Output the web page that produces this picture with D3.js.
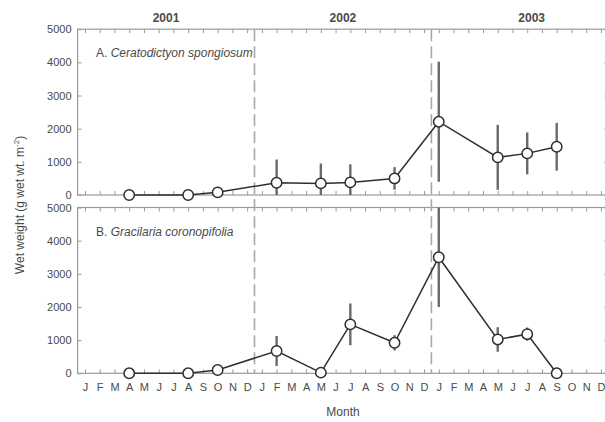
<!DOCTYPE html>
<html>
<head>
<meta charset="utf-8">
<script src="https://cdn.jsdelivr.net/npm/d3@7"></script>
<style>
  body { margin: 0; background: #fff; }
  svg { display: block; font-family: "Liberation Sans", Arial, sans-serif; }
</style>
</head>
<body>
<svg id="plot" width="605" height="422"></svg>
<script>
// month index 0 = Jan 2001 ... 35 = Dec 2003
const monthLabels = ["J","F","M","A","M","J","J","A","S","O","N","D"];
const years = ["2001", "2002", "2003"];
const yearLabelAt = [5.5, 17.5, 30.3];
const yearBreaks = [11.5, 23.5];
const yTicks = [0, 1000, 2000, 3000, 4000, 5000];

// sampling months
const sampleMonths = [3, 7, 9, 13, 16, 18, 21, 24, 28, 30, 32];

// A. Ceratodictyon spongiosum (mean, error)
const ceratoMean = [0, 0, 80, 370, 350, 380, 500, 2210, 1135, 1255, 1455];
const ceratoErr  = [0, 0, 0, 700, 600, 545, 340, 1810, 980, 630, 720];

// B. Gracilaria coronopifolia
const gracMean = [0, 0, 100, 672, 20, 1475, 920, 3500, 1020, 1180, 0];
const gracErr  = [0, 0, 0, 450, 0, 630, 230, 1500, 370, 200, 0];

const svg = d3.select("#plot");
const frameCol = "#9a9a9a";
const textCol = "#4a4a4a";

const x = d3.scaleLinear().domain([-0.5, 35.5]).range([77.6, 608.3]);

const panels = [
  {letter: "A. ", name: "Ceratodictyon spongiosum", mean: ceratoMean, err: ceratoErr,
   y: d3.scaleLinear().domain([0, 5000]).range([195, 29.2])},
  {letter: "B. ", name: "Gracilaria coronopifolia", mean: gracMean, err: gracErr,
   y: d3.scaleLinear().domain([0, 5000]).range([373.3, 207.5])}
];

const months = d3.range(36);

panels.forEach(function(p, pi) {
  const y = p.y;
  const top = y(5000), bot = y(0);
  const g = svg.append("g");

  // frame
  g.append("rect")
    .attr("x", x(-0.5)).attr("y", top)
    .attr("width", x(35.5) - x(-0.5)).attr("height", bot - top)
    .style("fill", "none").style("stroke", frameCol).style("stroke-width", 1.2);

  // month ticks top and bottom (inward)
  g.append("g").attr("transform", "translate(0," + top + ")")
    .call(d3.axisTop(x).tickValues(months).tickSize(-4).tickFormat(""))
    .call(a => a.select(".domain").remove())
    .call(a => a.selectAll("line").style("stroke", frameCol));
  const bx = d3.axisBottom(x).tickValues(months).tickSize(-4).tickPadding(10)
    .tickFormat(d => pi == 1 ? monthLabels[d % 12] : "");
  g.append("g").attr("transform", "translate(0," + bot + ")")
    .call(bx)
    .call(a => a.select(".domain").remove())
    .call(a => a.selectAll("line").style("stroke", frameCol))
    .call(a => a.selectAll("text").style("font-size", "11px").style("fill", textCol)
      .style("font-family", "Liberation Sans, Arial, sans-serif"));

  // y axis left with labels, right with ticks only
  g.append("g").attr("transform", "translate(" + x(-0.5) + ",0)")
    .call(d3.axisLeft(y).tickValues(yTicks).tickSize(-4).tickPadding(6).tickFormat(d3.format("d")))
    .call(a => a.select(".domain").remove())
    .call(a => a.selectAll("line").style("stroke", frameCol))
    .call(a => a.selectAll("text").style("font-size", "11px").style("fill", textCol)
      .style("font-family", "Liberation Sans, Arial, sans-serif"));
  g.append("g").attr("transform", "translate(" + x(35.5) + ",0)")
    .call(d3.axisRight(y).tickValues(yTicks).tickSize(-4).tickFormat(""))
    .call(a => a.select(".domain").remove())
    .call(a => a.selectAll("line").style("stroke", frameCol));

  // panel title
  const t = g.append("text")
    .attr("x", 96).attr("y", top + 28)
    .style("font-size", "12px").style("fill", textCol);
  t.append("tspan").text(p.letter);
  t.append("tspan").style("font-style", "italic").text(p.name);
});

// year break dashed lines
svg.selectAll(".brk").data(yearBreaks).enter().append("line")
  .attr("class", "brk")
  .attr("x1", d => x(d)).attr("x2", d => x(d))
  .attr("y1", panels[0].y(5000)).attr("y2", panels[1].y(0))
  .style("stroke", "#a8a8a8").style("stroke-width", 1.6)
  .style("stroke-dasharray", "12,5");

// data: error bars, lines, points
panels.forEach(function(p) {
  const y = p.y;
  const data = sampleMonths.map((m, i) => ({m: m, v: p.mean[i], e: p.err[i]}));
  const g = svg.append("g");

  g.selectAll(".err").data(data.filter(d => d.e > 0)).enter().append("line")
    .attr("x1", d => x(d.m)).attr("x2", d => x(d.m))
    .attr("y1", d => y(Math.max(0, d.v - d.e)))
    .attr("y2", d => y(Math.min(5000, d.v + d.e)))
    .style("stroke", "#6a6a6a").style("stroke-width", 2.4);

  g.append("path").datum(data)
    .attr("d", d3.line().x(d => x(d.m)).y(d => y(d.v)))
    .style("fill", "none").style("stroke", "#2e2e2e").style("stroke-width", 1.5);

  g.selectAll(".pt").data(data).enter().append("circle")
    .attr("cx", d => x(d.m)).attr("cy", d => y(d.v)).attr("r", 5.2)
    .style("fill", "#fff").style("stroke", "#2e2e2e").style("stroke-width", 1.5);
});

// year labels
svg.selectAll(".yr").data(years).enter().append("text")
  .attr("x", (d, i) => x(yearLabelAt[i])).attr("y", 22)
  .attr("text-anchor", "middle")
  .style("font-size", "12px").style("font-weight", "bold").style("fill", textCol)
  .text(d => d);

// axis titles
svg.append("text")
  .attr("x", 343).attr("y", 416)
  .attr("text-anchor", "middle")
  .style("font-size", "12px").style("fill", textCol)
  .text("Month");

const yl = svg.append("text")
  .attr("transform", "translate(24,205) rotate(-90)")
  .attr("text-anchor", "middle")
  .style("font-size", "12px").style("fill", textCol);
yl.append("tspan").text("Wet weight (g wet wt. m");
yl.append("tspan").attr("dy", -5).style("font-size", "8px").text("-2");
yl.append("tspan").attr("dy", 5).text(")");
</script>
</body>
</html>
